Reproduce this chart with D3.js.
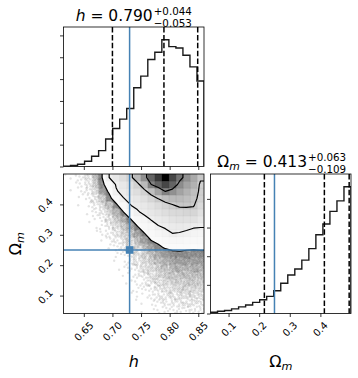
<!DOCTYPE html>
<html><head><meta charset="utf-8">
<script src="https://cdn.jsdelivr.net/npm/d3@7"></script>
<style>body{margin:0;background:#fff}svg{display:block}</style>
</head><body>
<svg id="c" width="358" height="378"></svg>
<script>
// ---------------- data ----------------
const hRange = [0.6145, 0.8600];
const omRange = [0.041, 0.500];
const hTicks = [0.65, 0.70, 0.75, 0.80, 0.85];
const omTicks = [0.1, 0.2, 0.3, 0.4];
const hHist = [8,23,53,121,235,364,629,871,1083,1326,1803,2068,2447,2614,2902,2742,2712,2545,2280,1955];
const omHist = [46,80,104,160,230,298,390,482,598,794,1058,1344,1552,1862,2264,2748,3126,3564,3932,4426];
const hHistTicks = [0,500,1000,1500,2000,2500,3000];
const omHistTicks = [0,1000,2000,3000,4000];
const hQuantiles = [0.700, 0.790, 0.849];
const omQuantiles = [0.217, 0.413, 0.494];
const hTruth = 0.73;
const omTruth = 0.25;
const hSummary = [0.790, 0.044, 0.053];
const omSummary = [0.413, 0.063, 0.109];
const contourLevels = [12, 25, 45, 70];
// 2D histogram (rows: high Omega_m at top -> low at bottom; cols: low h -> high h), % of peak
const density = [
 [0.1,0.3,0.7,1.8,4.5,12,25,31,36,42,52,66,78,88,100,85,74,66,58,47],
 [0.05,0.2,0.5,1.3,3.5,10,17,26,30,35,42,52,70,78,85,78,67,60,55,43],
 [0,0.1,0.3,0.9,2.5,8,13,24,28,32,36,42,50,60,70,66,60,55,50,43],
 [0,0,0.2,0.6,1.6,3.5,10,16,24.5,28,31,35,40,45.5,50,52,52,50,48,42],
 [0,0,0.1,0.4,1,2.4,4.5,10.5,17,24.5,28,30,33,37,41,44,47,47,46,38],
 [0,0,0,0.2,0.6,1.5,3,5.5,11.5,17,23,28,31,33,36,38,39,40,40,34],
 [0,0,0,0.1,0.3,0.9,2,3.6,6,11.5,16,20,26,29,31,33,34,34,34,30],
 [0,0,0,0,0.2,0.5,1.2,2.4,4,6.8,11.8,16,19,24.5,26.5,28,29,28,26.5,26],
 [0,0,0,0,0.1,0.3,0.8,1.6,2.8,4.5,7.5,11.8,15.5,19,22,25,24.5,23,21,20],
 [0,0,0,0,0,0.2,0.5,1,1.8,3,4.8,7.5,12.2,14,16,18,18,17,16,16],
 [0,0,0,0,0,0,0.3,0.6,1.1,2,3.3,5,7.5,10.5,13,14,14,13.5,13,13.5],
 [0,0,0,0,0,0,0,0.3,0.7,1.3,2.2,3.4,4.8,6.5,8.2,9.8,10.5,10,10.2,10],
 [0,0,0,0,0,0,0,0.2,0.4,0.9,1.6,2.5,3.6,4.8,6,7,7.6,7.8,7.8,7.7],
 [0,0,0,0,0,0,0,0.1,0.2,0.6,1.1,1.8,2.7,3.6,4.5,5.3,5.8,6,6,5.9],
 [0,0,0,0,0,0,0,0,0.1,0.4,0.8,1.3,2,2.8,3.5,4.1,4.5,4.6,4.7,4.6],
 [0,0,0,0,0,0,0,0,0.1,0.2,0.5,0.9,1.4,2,2.6,3.1,3.5,3.6,3.6,3.5],
 [0,0,0,0,0,0,0,0,0,0.1,0.3,0.6,1,1.4,1.9,2.3,2.6,2.7,2.8,2.7],
 [0,0,0,0,0,0,0,0,0,0.1,0.2,0.4,0.7,1,1.3,1.7,1.9,2,2,2],
 [0,0,0,0,0,0,0,0,0,0,0.1,0.2,0.4,0.7,1,1.2,1.3,1.4,1.5,1.4],
 [0,0,0,0,0,0,0,0,0,0,0,0.1,0.2,0.4,0.6,0.7,0.8,0.9,0.9,0.9]
];

// ---------------- layout ----------------
const FONT = "'DejaVu Sans', sans-serif";
const TRUTH = "#4682b4";
const svg = d3.select("#c");
const P = {
  tl: {x0: 63.5, x1: 204, y0: 27, y1: 166.5},
  bl: {x0: 63.5, x1: 204, y0: 174, y1: 313.5},
  br: {x0: 210.5, x1: 351, y0: 174, y1: 313.5}
};
const xh = d3.scaleLinear().domain(hRange).range([P.bl.x0, P.bl.x1]);
const yom = d3.scaleLinear().domain(omRange).range([P.bl.y1, P.bl.y0]);
const xom = d3.scaleLinear().domain(omRange).range([P.br.x0, P.br.x1]);
const yhH = d3.scaleLinear().domain([0, 1.1 * d3.max(hHist)]).range([P.tl.y1, P.tl.y0]);
const yomH = d3.scaleLinear().domain([0, 1.1 * d3.max(omHist)]).range([P.br.y1, P.br.y0]);

const defs = svg.append("defs");
Object.entries(P).forEach(([k, p]) => {
  defs.append("clipPath").attr("id", "clip-" + k)
    .append("rect").attr("x", p.x0).attr("y", p.y0).attr("width", p.x1 - p.x0).attr("height", p.y1 - p.y0);
});

// ---------------- histograms ----------------
function drawHist(p, key, values, range, xs, ys, quant, truth, yTicks) {
  const g = svg.append("g").attr("clip-path", `url(#clip-${key})`);
  const n = values.length;
  const edges = d3.range(n + 1).map(i => range[0] + i * (range[1] - range[0]) / n);
  const pts = [[edges[0], 0]];
  values.forEach((v, i) => { pts.push([edges[i], v]); pts.push([edges[i + 1], v]); });
  pts.push([edges[n], 0]);
  g.append("path").attr("d", d3.line().x(d => xs(d[0])).y(d => ys(d[1]))(pts))
    .attr("fill", "none").attr("stroke", "#1a1a1a").attr("stroke-width", 1.4);
  quant.forEach(q => {
    g.append("line").attr("x1", xs(q)).attr("x2", xs(q)).attr("y1", p.y0).attr("y2", p.y1)
      .attr("stroke", "#000").attr("stroke-width", 1.5).attr("stroke-dasharray", "5.5,2.4");
  });
  g.append("line").attr("x1", xs(truth)).attr("x2", xs(truth)).attr("y1", p.y0).attr("y2", p.y1)
    .attr("stroke", TRUTH).attr("stroke-width", 1.5);
  svg.append("g").attr("transform", `translate(${p.x0},0)`)
    .call(d3.axisLeft(ys).tickValues(yTicks).tickSize(3.5).tickFormat(""))
    .call(a => a.select(".domain").remove())
    .call(a => a.selectAll("line").attr("stroke", "#000").attr("stroke-width", 0.8));
}
drawHist(P.tl, "tl", hHist, hRange, xh, yhH, hQuantiles, hTruth, hHistTicks);
drawHist(P.br, "br", omHist, omRange, xom, yomH, omQuantiles, omTruth, omHistTicks);

// ---------------- 2D panel ----------------
const nr = density.length, nc = density[0].length;
const dh = (hRange[1] - hRange[0]) / nc, dom = (omRange[1] - omRange[0]) / nr;
const Hmax = d3.max(density.flat());
const g2 = svg.append("g").attr("clip-path", "url(#clip-bl)");

const NP = nc + 4, MP = nr + 4;
const pad = new Array(NP * MP).fill(0);
const getH = (r, c) => density[Math.max(0, Math.min(nr - 1, r))][Math.max(0, Math.min(nc - 1, c))];
for (let r = 0; r < MP; r++) for (let c = 0; c < NP; c++) {
  const rr = r - 2, cc = c - 2;
  if (rr >= -1 && rr <= nr && cc >= -1 && cc <= nc) pad[r * NP + c] = getH(rr, cc);
}
const cellToH = x => hRange[0] + (x - 2) * dh;
const cellToOm = y => omRange[1] - (y - 2) * dom;
const proj = d3.geoTransform({point: function(x, y) { this.stream.point(xh(cellToH(x)), yom(cellToOm(y))); }});
const gp = d3.geoPath(proj);

// sample points: dots per cell follow the histogram counts
const dotsPerUnit = 6;
const gr = 1.32471795724474602596, a1 = 1 / gr, a2 = 1 / (gr * gr);
let t = 0;
const dots = [];
for (let r = 0; r < nr; r++) for (let c = 0; c < nc; c++) {
  let mn = Infinity;
  for (let dr = -1; dr <= 1; dr++) for (let dc = -1; dc <= 1; dc++) mn = Math.min(mn, getH(r + dr, c + dc));
  if (mn >= contourLevels[0] * 1.05) continue;
  const n = Math.round(density[r][c] * dotsPerUnit);
  for (let k = 0; k < n; k++) {
    t++;
    const u = (0.5 + a1 * t) % 1, v = (0.5 + a2 * t) % 1;
    dots.push([hRange[0] + (c + u) * dh, omRange[1] - (r + v) * dom]);
  }
}
g2.append("g").selectAll("circle").data(dots).join("circle")
  .attr("cx", d => xh(d[0])).attr("cy", d => yom(d[1])).attr("r", 1.2)
  .attr("fill", "#000").attr("fill-opacity", 0.11);

const cont = d3.contours().size([NP, MP]).thresholds(contourLevels);
const cs = cont(pad);
g2.append("path").attr("d", gp(cs[0])).attr("fill", "#fff").attr("stroke", "none");
const cells = [];
density.forEach((row, r) => row.forEach((v, c) => { if (v > 0) cells.push({r, c, v}); }));
g2.append("g").selectAll("rect").data(cells).join("rect")
  .attr("x", d => xh(hRange[0] + d.c * dh)).attr("y", d => yom(omRange[1] - d.r * dom))
  .attr("width", d => xh(hRange[0] + (d.c + 1) * dh) - xh(hRange[0] + d.c * dh) + 0.3)
  .attr("height", d => yom(omRange[1] - (d.r + 1) * dom) - yom(omRange[1] - d.r * dom) + 0.3)
  .attr("fill", d => { const w = Math.round(255 * (1 - d.v / Hmax)); return `rgb(${w},${w},${w})`; })
  .attr("fill-opacity", d => d.v / Hmax);
g2.append("g").selectAll("path").data(cs).join("path")
  .attr("d", d => gp(d)).attr("fill", "none").attr("stroke", "#000").attr("stroke-width", 1.2)
  .attr("stroke-linejoin", "round");
g2.append("line").attr("x1", xh(hTruth)).attr("x2", xh(hTruth)).attr("y1", P.bl.y0).attr("y2", P.bl.y1)
  .attr("stroke", TRUTH).attr("stroke-width", 1.5);
g2.append("line").attr("x1", P.bl.x0).attr("x2", P.bl.x1).attr("y1", yom(omTruth)).attr("y2", yom(omTruth))
  .attr("stroke", TRUTH).attr("stroke-width", 1.5);
g2.append("rect").attr("x", xh(hTruth) - 3.8).attr("y", yom(omTruth) - 3.8).attr("width", 7.6).attr("height", 7.6)
  .attr("fill", TRUTH);

// ---------------- spines & axes ----------------
Object.values(P).forEach(p => {
  svg.append("rect").attr("x", p.x0).attr("y", p.y0).attr("width", p.x1 - p.x0).attr("height", p.y1 - p.y0)
    .attr("fill", "none").attr("stroke", "#000").attr("stroke-width", 0.8);
});
function bottomTicks(p, xs, ticks) {
  svg.append("g").attr("transform", `translate(0,${p.y1})`)
    .call(d3.axisBottom(xs).tickValues(ticks).tickSize(3.5).tickFormat(""))
    .call(a => a.select(".domain").remove())
    .call(a => a.selectAll("line").attr("stroke", "#000").attr("stroke-width", 0.8));
}
bottomTicks(P.tl, xh, hTicks);
bottomTicks(P.bl, xh, hTicks);
bottomTicks(P.br, xom, omTicks);
svg.append("g").attr("transform", `translate(${P.bl.x0},0)`)
  .call(d3.axisLeft(yom).tickValues(omTicks).tickSize(3.5).tickFormat(""))
  .call(a => a.select(".domain").remove())
  .call(a => a.selectAll("line").attr("stroke", "#000").attr("stroke-width", 0.8));

const TFS = 10;
function rotX(xs, ticks, fmt, top) {
  ticks.forEach(tk => {
    const tx = svg.append("text").text(fmt(tk)).style("font-family", FONT).attr("font-size", TFS)
      .attr("text-anchor", "middle").attr("dominant-baseline", "central");
    const L = tx.node().getComputedTextLength();
    const hb = (L + 0.73 * TFS) / (2 * Math.SQRT2);
    tx.attr("transform", `translate(${xs(tk)},${top + hb}) rotate(-45)`);
  });
}
function rotY(ys, ticks, fmt, right) {
  ticks.forEach(tk => {
    const tx = svg.append("text").text(fmt(tk)).style("font-family", FONT).attr("font-size", TFS)
      .attr("text-anchor", "middle").attr("dominant-baseline", "central");
    const L = tx.node().getComputedTextLength();
    const hb = (L + 0.73 * TFS) / (2 * Math.SQRT2);
    tx.attr("transform", `translate(${right - hb},${ys(tk) + 1}) rotate(-45)`);
  });
}
rotX(xh, hTicks, d3.format(".2f"), P.bl.y1 + 7.5);
rotX(xom, omTicks, d3.format(".1f"), P.br.y1 + 7.5);
rotY(yom, omTicks, d3.format(".1f"), P.bl.x0 - 10);

// ---------------- labels ----------------
const LFS = 16;
svg.append("text").attr("x", (P.bl.x0 + P.bl.x1) / 2).attr("y", 367).attr("text-anchor", "middle")
  .style("font-family", FONT).attr("font-size", LFS).attr("font-style", "italic").text("h");
function omegaLabel(sel, fs) {
  sel.append("tspan").text("Ω");
  sel.append("tspan").text("m").attr("font-style", "italic").attr("font-size", fs * 0.7).attr("dy", fs * 0.2);
}
const xl2 = svg.append("text").attr("x", (P.br.x0 + P.br.x1) / 2).attr("y", 367).attr("text-anchor", "middle")
  .style("font-family", FONT).attr("font-size", LFS);
omegaLabel(xl2, LFS);
const yl = svg.append("text").attr("transform", `translate(21,${(P.bl.y0 + P.bl.y1) / 2}) rotate(-90)`)
  .attr("text-anchor", "middle").style("font-family", FONT).attr("font-size", LFS);
omegaLabel(yl, LFS);

// ---------------- titles ----------------
const f3 = d3.format(".3f");
function title(cx, base, isOmega, s) {
  const TS = 15.5, SS = 10.3;
  const g = svg.append("g");
  const main = g.append("text").attr("y", base).style("font-family", FONT).attr("font-size", TS);
  if (isOmega) {
    main.append("tspan").text("Ω");
    main.append("tspan").text("m").attr("font-style", "italic").attr("font-size", TS * 0.7).attr("dy", 3);
    main.append("tspan").text(" = " + f3(s[0])).attr("dy", -3);
  } else {
    main.append("tspan").text("h").attr("font-style", "italic");
    main.append("tspan").text(" = " + f3(s[0]));
  }
  const ml = main.node().getComputedTextLength();
  const sup = g.append("text").attr("y", base - 6).style("font-family", FONT).attr("font-size", SS).text("+" + f3(s[1]));
  const sub = g.append("text").attr("y", base + 6.4).style("font-family", FONT).attr("font-size", SS).text("\u2212" + f3(s[2]));
  const sl = Math.max(sup.node().getComputedTextLength(), sub.node().getComputedTextLength());
  const x0 = cx - (ml + 1 + sl) / 2;
  main.attr("x", x0);
  sup.attr("x", x0 + ml + 1);
  sub.attr("x", x0 + ml + 1);
}
title((P.tl.x0 + P.tl.x1) / 2, 21, false, hSummary);
title((P.br.x0 + P.br.x1) / 2 + 1, 167, true, omSummary);
</script>
</body></html>
